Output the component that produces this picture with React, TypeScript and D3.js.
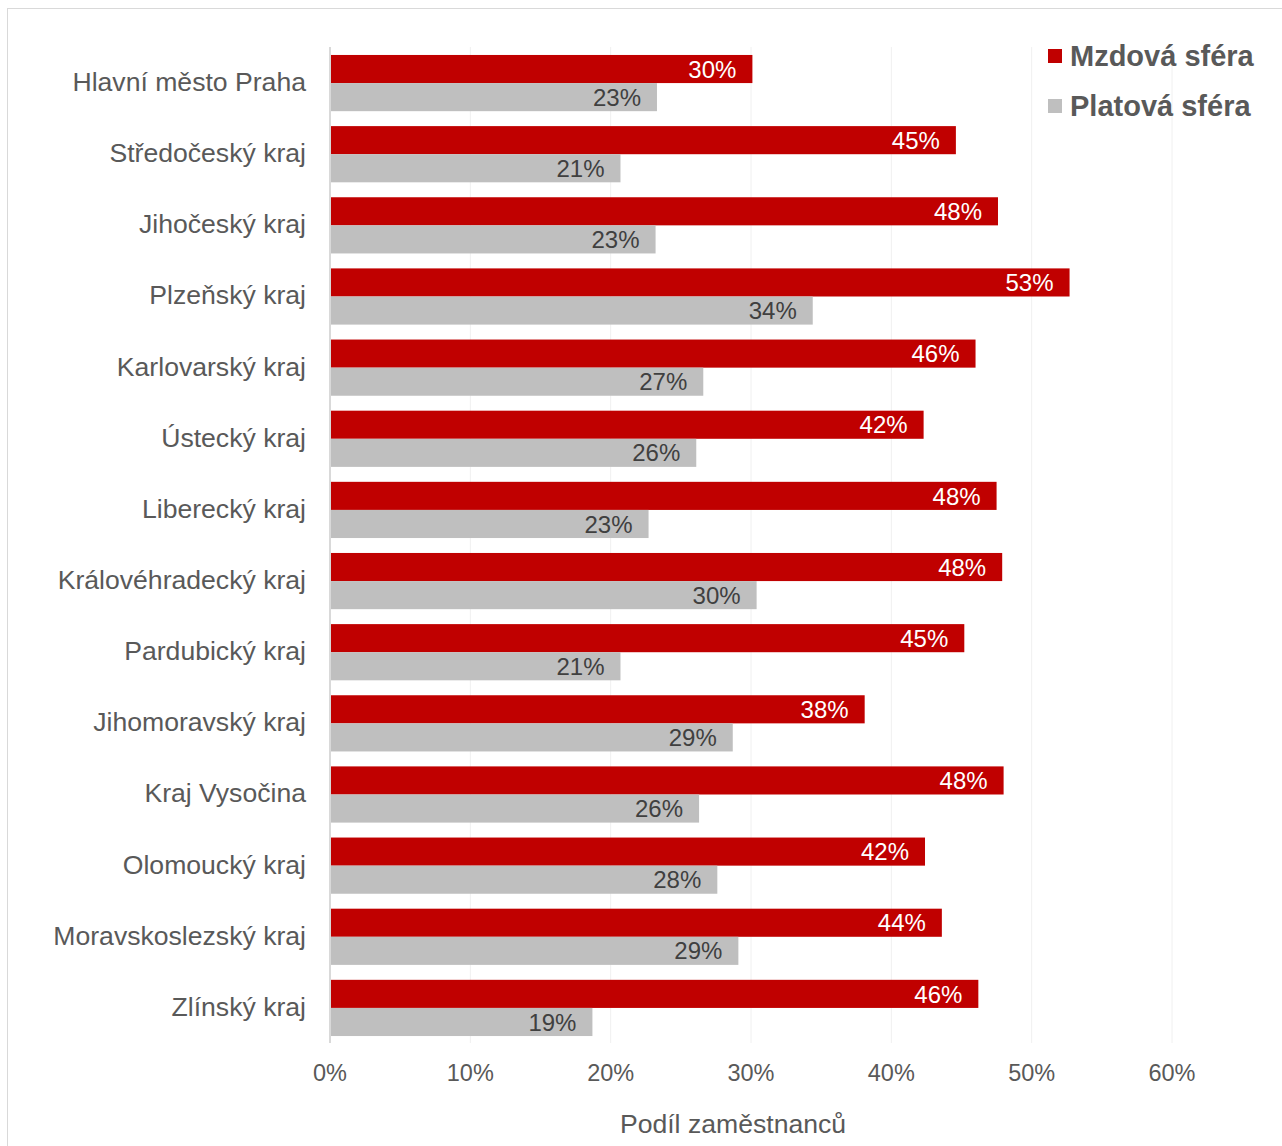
import React from "react";
import * as d3 from "d3";

const categories = [
  "Hlavní město Praha",
  "Středočeský kraj",
  "Jihočeský kraj",
  "Plzeňský kraj",
  "Karlovarský kraj",
  "Ústecký kraj",
  "Liberecký kraj",
  "Královéhradecký kraj",
  "Pardubický kraj",
  "Jihomoravský kraj",
  "Kraj Vysočina",
  "Olomoucký kraj",
  "Moravskoslezský kraj",
  "Zlínský kraj",
];
const mzdova = [30.1, 44.6, 47.6, 52.7, 46.0, 42.3, 47.5, 47.9, 45.2, 38.1, 48.0, 42.4, 43.6, 46.2];
const platova = [23.3, 20.7, 23.2, 34.4, 26.6, 26.1, 22.7, 30.4, 20.7, 28.7, 26.3, 27.6, 29.1, 18.7];
const xTicks = [0, 10, 20, 30, 40, 50, 60];
const seriesNames = ["Mzdová sféra", "Platová sféra"];
const colors = ["#c00000", "#bfbfbf"];
const labelColors = ["#ffffff", "#404040"];

const W = 1282;
const H = 1146;
const font = "'Liberation Sans', Arial, sans-serif";

export default function App() {
  const x = d3.scaleLinear().domain([0, 60]).range([330, 1172]);
  const y = d3.scaleBand<string>().domain(categories).range([47.5, 1043.5]).paddingInner(0.21).paddingOuter(0.105);
  const sub = d3.scaleBand<number>().domain([0, 1]).range([0, y.bandwidth()]);
  const series = [mzdova, platova];

  return (
    <svg width={W} height={H} style={{ position: "absolute", left: 0, top: 0 }} fontFamily={font}>
      <rect x={7.5} y={8.5} width={W - 7} height={H - 8} fill="#fff" stroke="#d9d9d9" strokeWidth={1} />
      {xTicks.slice(1).map((t) => (
        <line key={t} x1={x(t)} x2={x(t)} y1={47} y2={1043} stroke="#f0f0f0" strokeWidth={1} />
      ))}
      {series.map((vals, si) =>
        vals.map((v, i) => {
          const yy = (y(categories[i]) as number) + (sub(si) as number);
          return (
            <g key={`${si}-${i}`}>
              <rect x={x(0)} y={yy} width={x(v) - x(0)} height={sub.bandwidth()} fill={colors[si]} />
              <text
                x={x(v) - 16}
                y={yy + sub.bandwidth() / 2}
                dy="0.36em"
                textAnchor="end"
                fontSize={24}
                fill={labelColors[si]}
              >
                {d3.format(".0f")(v)}%
              </text>
            </g>
          );
        })
      )}
      <line x1={x(0)} x2={x(0)} y1={47} y2={1043} stroke="#d9d9d9" strokeWidth={2} />
      {categories.map((c) => (
        <text
          key={c}
          x={306}
          y={(y(c) as number) + y.bandwidth() / 2}
          dy="0.3em"
          textAnchor="end"
          fontSize={26.6}
          fill="#595959"
        >
          {c}
        </text>
      ))}
      {xTicks.map((t) => (
        <text key={t} x={x(t)} y={1073} dy="0.36em" textAnchor="middle" fontSize={23.5} fill="#595959">
          {t}%
        </text>
      ))}
      <text x={733} y={1123} dy="0.36em" textAnchor="middle" fontSize={26.6} fill="#595959">
        Podíl zaměstnanců
      </text>
      {seriesNames.map((n, i) => (
        <g key={n}>
          <rect x={1048} y={49 + i * 50} width={14} height={14} fill={colors[i]} />
          <text x={1070} y={56 + i * 50} dy="0.36em" fontSize={29} fontWeight="bold" fill="#595959">
            {n}
          </text>
        </g>
      ))}
    </svg>
  );
}
